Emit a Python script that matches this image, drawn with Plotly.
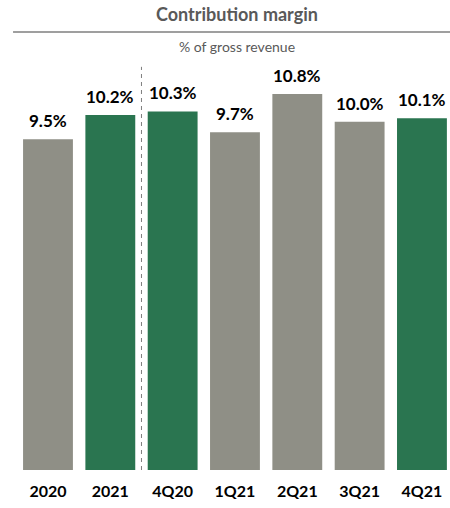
import plotly.graph_objects as go

categories = ["2020", "2021", "4Q20", "1Q21", "2Q21", "3Q21", "4Q21"]
values = [9.5, 10.2, 10.3, 9.7, 10.8, 10.0, 10.1]
labels = ["9.5%", "10.2%", "10.3%", "9.7%", "10.8%", "10.0%", "10.1%"]
GRAY = "#8F8F86"
GREEN = "#2A7550"
colors = [GRAY, GREEN, GREEN, GRAY, GRAY, GRAY, GREEN]

FONT = "Lato"
x_idx = list(range(len(categories)))

fig = go.Figure()
fig.add_trace(go.Bar(
    x=x_idx, y=values, width=0.8,
    marker=dict(color=colors, line=dict(width=0)),
    hoverinfo="skip",
))

for i, (v, t) in enumerate(zip(values, labels)):
    fig.add_annotation(x=i, y=v, text="<b>%s</b>" % t, showarrow=False,
                       xref="x", yref="y", yanchor="bottom", yshift=6,
                       font=dict(family=FONT, size=17, color="#000000"))

# divider between annual and quarterly
fig.add_shape(type="line", xref="x", yref="y", x0=1.5, x1=1.5, y0=0, y1=11.58,
              line=dict(color="#7F7F7F", width=1, dash="4px,4px"))

# title
fig.add_annotation(x=0.527, y=0.970, xref="paper", yref="paper",
                   xanchor="center", yanchor="middle",
                   text="<b>Contribution margin</b>", showarrow=False,
                   font=dict(family=FONT, size=18, color="#595959"))
fig.add_shape(type="line", xref="paper", yref="paper", x0=0.029, x1=1.0,
              y0=0.932, y1=0.932, line=dict(color="#7F7F7F", width=1.5))
fig.add_annotation(x=0.527, y=0.902, xref="paper", yref="paper",
                   xanchor="center", yanchor="middle",
                   text="% of gross revenue", showarrow=False,
                   font=dict(family=FONT, size=14, color="#595959"))

fig.update_layout(
    width=450, height=508,
    margin=dict(l=0, r=0, t=0, b=38),
    paper_bgcolor="white", plot_bgcolor="white",
    showlegend=False,
    xaxis=dict(range=[-0.77, 6.45], tickmode="array", tickvals=x_idx,
               ticktext=["<b>%s</b>" % c for c in categories],
               tickfont=dict(family=FONT, size=16, color="#000000"),
               ticklabelstandoff=10,
               showgrid=False, zeroline=False, showline=False, ticks="",
               fixedrange=True),
    yaxis=dict(range=[0, 13.5], visible=False, fixedrange=True),
)

fig.write_html("out.html", config={"displayModeBar": False},
               post_script="document.body.style.margin='0';document.body.style.overflow='hidden';")
